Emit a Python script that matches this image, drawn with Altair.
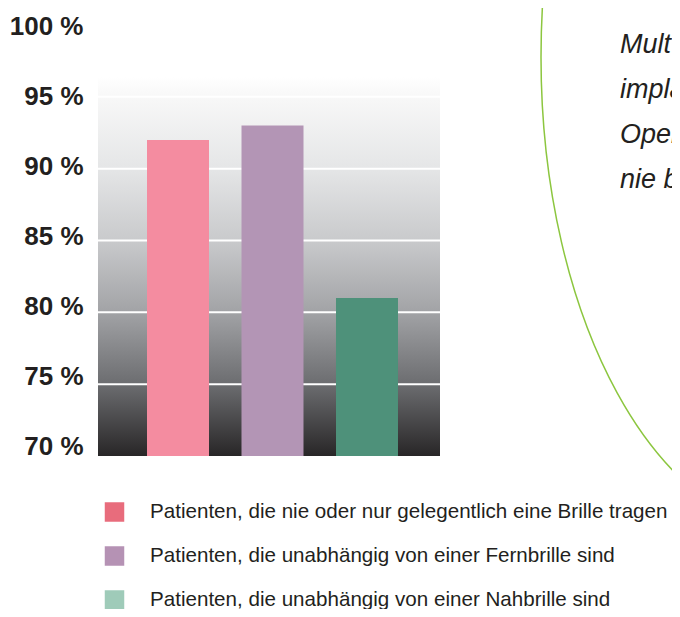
import altair as alt
import pandas as pd

categories = [
    "Patienten, die nie oder nur gelegentlich eine Brille tragen",
    "Patienten, die unabhängig von einer Fernbrille sind",
    "Patienten, die unabhängig von einer Nahbrille sind",
]
values = [92, 93, 81]
bar_colors = ["#f48ca0", "#b395b5", "#4e917a"]
legend_colors = ["#e86c7c", "#b592b4", "#9fcbb9"]
tick_values = [70, 75, 80, 85, 90, 95, 100]
grid_values = [75, 80, 85, 90, 95]
side_lines = ["allen", "Mult", "impla", "Oper", "nie b"]

df = pd.DataFrame({"cat": categories, "value": values})
grid_df = pd.DataFrame({"v": grid_values})
one = pd.DataFrame({"a": [0]})

FONT = "Liberation Sans, Arial, Helvetica, sans-serif"
TEXT = "#231f20"

yscale = alt.Scale(domain=[70, 100], range=[448, 17], nice=False, zero=False)
yaxis = alt.Axis(
    values=tick_values,
    labelExpr="datum.value + ' %'",
    labelFont=FONT,
    labelFontWeight="bold",
    labelFontSize=26,
    labelColor=TEXT,
    labelPadding=15,
    labelBaseline="middle",
    labelOffset={"expr": "(datum.value - 96) * 0.38"},
    ticks=False,
    domain=False,
    grid=False,
    offset=-90,
    title=None,
)

gradient = alt.LinearGradient(
    gradient="linear",
    x1=0, x2=0, y1=0, y2=1,
    stops=[
        alt.GradientStop(color="#ffffff", offset=0),
        alt.GradientStop(color="#f8f8f8", offset=0.05),
        alt.GradientStop(color="#e5e6e7", offset=0.24),
        alt.GradientStop(color="#c9cacc", offset=0.43),
        alt.GradientStop(color="#a2a3a6", offset=0.62),
        alt.GradientStop(color="#6c6d70", offset=0.81),
        alt.GradientStop(color="#282627", offset=1),
    ],
)

bg = alt.Chart(one).mark_rect(fill=gradient).encode(
    x=alt.value(90),
    x2=alt.value(432),
    y=alt.YDatum(70, type="quantitative", scale=yscale, axis=yaxis),
    y2=alt.datum(96.4),
)

grid = alt.Chart(grid_df).mark_rule(color="white", strokeWidth=2).encode(
    x=alt.value(90),
    x2=alt.value(432),
    y=alt.Y("v:Q", scale=yscale, axis=yaxis),
)

bars = alt.Chart(df).mark_bar().encode(
    x=alt.X(
        "cat:N",
        sort=categories,
        scale=alt.Scale(range=[122.75, 406.25], paddingInner=0.3439, paddingOuter=0.172),
        axis=None,
    ),
    y=alt.Y("value:Q", scale=yscale, axis=yaxis),
    y2=alt.datum(70),
    color=alt.Color("cat:N", scale=alt.Scale(domain=categories, range=bar_colors), legend=None),
)

main = alt.layer(bg, grid, bars)

leg_y = alt.Y("cat:N", sort=categories, scale=alt.Scale(type="point", range=[504, 592], padding=0), axis=None)
leg_sq = alt.Chart(df).mark_square(size=380, opacity=1).encode(
    x=alt.value(106.5),
    y=leg_y,
    fill=alt.Fill("cat:N", scale=alt.Scale(domain=categories, range=legend_colors), legend=None),
)
leg_tx = alt.Chart(df).mark_text(
    align="left", baseline="middle", font=FONT, fontSize=20.6, color=TEXT
).encode(x=alt.value(142), y=leg_y, text="cat:N")
legend = alt.layer(leg_sq, leg_tx)

side = alt.Chart(one).mark_text(
    align="left", baseline="alphabetic", font=FONT, fontSize=27, fontStyle="italic",
    lineBreak="\n", lineHeight=45, color=TEXT,
).encode(x=alt.value(612), y=alt.value(0), text=alt.value("\n".join(side_lines)))

ellipse_path = "M -1 0 A 1 1.827 0 1 1 1 0 A 1 1.827 0 1 1 -1 0 Z"
ellipse = alt.Chart(one).mark_point(
    shape=ellipse_path, size=270400, stroke="#8cc63f", strokeWidth=1.5, filled=False, opacity=1
).encode(x=alt.value(793), y=alt.value(49))

chart = (
    alt.layer(main, legend, side, ellipse)
    .resolve_scale(y="independent")
    .properties(width=664, height=601, autosize=alt.AutoSizeParams(type="none"), padding=0)
    .configure_view(stroke=None)
)

chart.save("out.html", embed_options={"renderer": "svg", "actions": False})
